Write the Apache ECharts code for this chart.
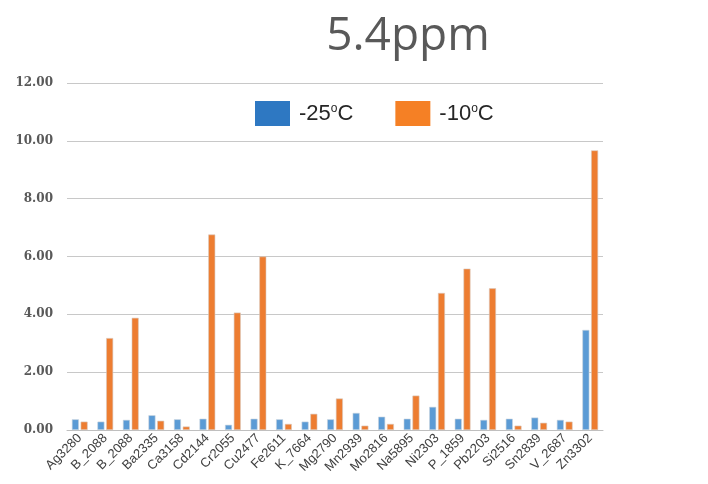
<!DOCTYPE html>
<html>
<head>
<meta charset="utf-8">
<script src="https://cdn.jsdelivr.net/npm/echarts@6/dist/echarts.min.js"></script>
<style>
    html, body { margin: 0; padding: 0; background: #fff; }
    #chart { width: 708px; height: 484px; }
</style>
</head>
<body>
<div id="chart"></div>
<script>
const categories = ['Ag3280', 'B_2088', 'B_2088', 'Ba2335', 'Ca3158', 'Cd2144', 'Cr2055', 'Cu2477', 'Fe2611', 'K_7664', 'Mg2790',
    'Mn2939', 'Mo2816', 'Na5895', 'Ni2303', 'P_1859', 'Pb2203', 'Si2516', 'Sn2839', 'V_2687', 'Zn3302']
const minus25 = [0.37, 0.29, 0.35, 0.51, 0.37, 0.39, 0.18, 0.39, 0.37, 0.29, 0.37,
    0.59, 0.46, 0.39, 0.80, 0.39, 0.35, 0.39, 0.43, 0.35, 3.46]
const minus10 = [0.29, 3.18, 3.88, 0.32, 0.12, 6.76, 4.06, 6.00, 0.21, 0.56, 1.09,
    0.15, 0.21, 1.19, 4.74, 5.58, 4.90, 0.15, 0.25, 0.29, 9.67]
const seriesNames = ['-25', '-10']
const yTicks = { min: 0, max: 12, interval: 2 }

const chart = echarts.init(document.getElementById('chart'))
const legendRich = {
    sup: { fontSize: 12, verticalAlign: 'top', padding: [0, 0, 10, 0], color: '#262626', fontFamily: 'Liberation Sans' }
}
const option = {
    animation: false,
    title: {
        text: '5.4ppm',
        left: 403,
        textAlign: 'center',
        top: 9,
        textStyle: { fontSize: 46, fontWeight: 'normal', color: '#595959', fontFamily: 'Open Sans' }
    },
    legend: {
        top: 101,
        left: 255,
        padding: 0,
        icon: 'rect',
        itemWidth: 35,
        itemHeight: 25,
        itemGap: 42,
        data: [
            { name: seriesNames[0], itemStyle: { color: '#2e78c2', borderWidth: 0 } },
            { name: seriesNames[1], itemStyle: { color: '#f58025', borderWidth: 0 } }
        ],
        formatter: (name) => name + '{sup|o}C',
        textStyle: {
            fontSize: 22,
            color: '#262626',
            fontFamily: 'Liberation Sans',
            padding: [0, 0, 0, 4],
            rich: legendRich
        }
    },
    grid: { left: 67, right: 105, top: 83, bottom: 54 },
    xAxis: {
        type: 'category',
        data: categories,
        axisLine: { lineStyle: { color: '#bfbfbf', width: 1 } },
        axisTick: { show: false },
        axisLabel: {
            interval: 0,
            rotate: 45,
            fontSize: 13,
            color: '#404040',
            fontFamily: 'Liberation Sans',
            margin: 6
        }
    },
    yAxis: {
        type: 'value',
        min: yTicks.min,
        max: yTicks.max,
        interval: yTicks.interval,
        axisLine: { show: false },
        axisTick: { show: false },
        splitLine: { lineStyle: { color: '#c8c8c8', width: 1 } },
        axisLabel: {
            formatter: (v) => v.toFixed(2),
            fontSize: 12,
            fontWeight: 'bold',
            color: '#595959',
            fontFamily: 'DejaVu Serif',
            margin: 14
        }
    },
    series: [
        {
            name: seriesNames[0],
            type: 'bar',
            data: minus25,
            barWidth: 7,
            barGap: '25%',
            itemStyle: { color: '#5b9bd5', borderColor: '#c9d3dd', borderWidth: 0.6 }
        },
        {
            name: seriesNames[1],
            type: 'bar',
            data: minus10,
            barWidth: 7,
            itemStyle: { color: '#ed7d31', borderColor: '#d8c9bf', borderWidth: 0.6 }
        }
    ]
}
chart.setOption(option)
</script>
</body>
</html>
